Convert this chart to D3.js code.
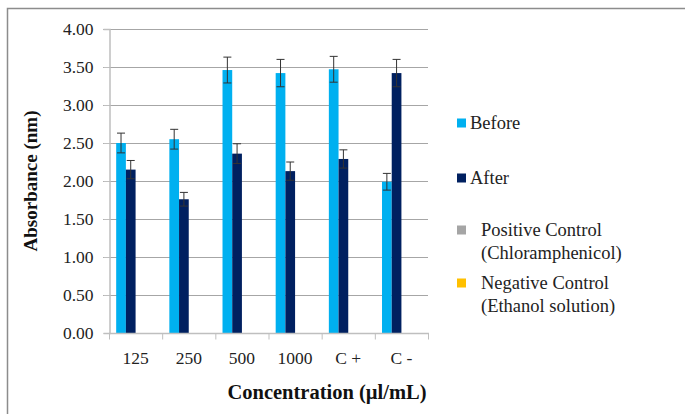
<!DOCTYPE html>
<html>
<head>
<meta charset="utf-8">
<script src="https://cdn.jsdelivr.net/npm/d3@7"></script>
<style>
  body { margin: 0; background: #fff; }
</style>
</head>
<body>
<svg id="chart" width="685" height="414"></svg>
<script>
// Chart data
const categories = ["125", "250", "500", "1000", "C +", "C -"];
const seriesNames = ["Before", "After", "Positive Control", "Negative Control"];
const before = [2.50, 2.55, 3.46, 3.42, 3.47, 1.99];
const beforeErr = [0.13, 0.13, 0.17, 0.18, 0.17, 0.11];
const after = [2.15, 1.76, 2.36, 2.13, 2.29, 3.42];
const afterErr = [0.12, 0.09, 0.13, 0.12, 0.12, 0.18];
const yTicks = [0, 0.5, 1, 1.5, 2, 2.5, 3, 3.5, 4];
const colors = ["#00B0F0", "#002060", "#A5A5A5", "#FFC000"];

const serif = "'Liberation Serif', 'Times New Roman', serif";
const svg = d3.select("#chart");

// outer chart frame (only top and left edges show in the picture)
svg.append("rect")
  .attr("x", 7.5).attr("y", 8.5)
  .attr("width", 700).attr("height", 420)
  .attr("fill", "none").attr("stroke", "#8c8c8c").attr("stroke-width", 1.5);

const plot = { left: 109, right: 428, top: 29, bottom: 333 };

const x = d3.scaleBand()
  .domain(categories)
  .range([plot.left, plot.right])
  .paddingInner(0).paddingOuter(0);

// four series slots per category, last two are empty in the data
const xs = d3.scaleBand()
  .domain(seriesNames)
  .range([0, x.bandwidth()])
  .paddingOuter(0.74)
  .paddingInner(0);

const y = d3.scaleLinear()
  .domain([0, 4])
  .range([plot.bottom, plot.top]);

// gridlines
svg.append("g")
  .selectAll("line")
  .data(yTicks.slice(1))
  .enter().append("line")
  .attr("x1", plot.left - 6).attr("x2", plot.right)
  .attr("y1", d => Math.round(y(d)) + 0.5).attr("y2", d => Math.round(y(d)) + 0.5)
  .attr("stroke", "#a6a6a6").attr("stroke-width", 1);

// y axis
const yAxis = svg.append("g")
  .attr("transform", `translate(${plot.left + 0.5},0)`)
  .call(d3.axisLeft(y).tickValues(yTicks).tickFormat(d3.format(".2f")).tickSize(6).tickPadding(10));
yAxis.select(".domain").attr("stroke", "#bfbfbf").attr("stroke-width", 1.5);
yAxis.selectAll(".tick line").attr("stroke", "#bfbfbf");
yAxis.selectAll("text")
  .style("font-family", serif)
  .style("font-size", "17.5px").attr("fill", "#222");

// bars
const data = categories.map((c, i) => ({ cat: c, vals: [
  { s: "Before", v: before[i], e: beforeErr[i], color: colors[0] },
  { s: "After", v: after[i], e: afterErr[i], color: colors[1] }
]}));

const groups = svg.append("g").selectAll("g")
  .data(data).enter().append("g")
  .attr("transform", d => `translate(${x(d.cat)},0)`);

groups.selectAll("rect")
  .data(d => d.vals).enter().append("rect")
  .attr("x", d => xs(d.s))
  .attr("width", xs.bandwidth())
  .attr("y", d => y(d.v))
  .attr("height", d => y(0) - y(d.v))
  .attr("fill", d => d.color);

// error bars
const eb = groups.selectAll("g.err")
  .data(d => d.vals).enter().append("g").attr("class", "err")
  .attr("stroke", "#333").attr("stroke-width", 1);
eb.append("line")
  .attr("x1", d => xs(d.s) + xs.bandwidth() / 2).attr("x2", d => xs(d.s) + xs.bandwidth() / 2)
  .attr("y1", d => y(d.v + d.e)).attr("y2", d => y(d.v - d.e));
eb.append("line")
  .attr("x1", d => xs(d.s) + xs.bandwidth() / 2 - 4).attr("x2", d => xs(d.s) + xs.bandwidth() / 2 + 4)
  .attr("y1", d => y(d.v + d.e)).attr("y2", d => y(d.v + d.e));
eb.append("line")
  .attr("x1", d => xs(d.s) + xs.bandwidth() / 2 - 4).attr("x2", d => xs(d.s) + xs.bandwidth() / 2 + 4)
  .attr("y1", d => y(d.v - d.e)).attr("y2", d => y(d.v - d.e));

// x axis
const xAxisG = svg.append("g").attr("transform", `translate(0,${plot.bottom + 0.5})`);
xAxisG.append("line")
  .attr("x1", plot.left).attr("x2", plot.right + 1)
  .attr("stroke", "#bfbfbf").attr("stroke-width", 1.5);
xAxisG.selectAll("line.tk")
  .data(categories.concat(["end"])).enter().append("line").attr("class", "tk")
  .attr("x1", (d, i) => i < categories.length ? x(d) + 0.5 : plot.right + 0.5)
  .attr("x2", (d, i) => i < categories.length ? x(d) + 0.5 : plot.right + 0.5)
  .attr("y1", 0).attr("y2", 6)
  .attr("stroke", "#bfbfbf");
xAxisG.selectAll("text")
  .data(categories).enter().append("text")
  .attr("x", d => x(d) + x.bandwidth() / 2)
  .attr("y", 30)
  .attr("text-anchor", "middle")
  .style("font-family", serif).style("font-size", "17.5px").attr("fill", "#222")
  .text(d => d);

// axis titles
svg.append("text")
  .attr("x", 327).attr("y", 399)
  .attr("text-anchor", "middle")
  .style("font-family", serif).style("font-size", "20.5px")
  .attr("font-weight", "bold").attr("fill", "#111")
  .text("Concentration (µl/mL)");

svg.append("text")
  .attr("transform", "translate(37,181) rotate(-90)")
  .attr("text-anchor", "middle")
  .style("font-family", serif).style("font-size", "19px")
  .attr("font-weight", "bold").attr("fill", "#111")
  .text("Absorbance (nm)");

// legend
const legendItems = [
  { lines: ["Before"], color: colors[0], y: 123, tx: 470 },
  { lines: ["After"], color: colors[1], y: 178, tx: 470 },
  { lines: ["Positive Control", "(Chloramphenicol)"], color: colors[2], y: 230, tx: 481 },
  { lines: ["Negative Control", "(Ethanol solution)"], color: colors[3], y: 283, tx: 481 }
];
const lg = svg.append("g").selectAll("g").data(legendItems).enter().append("g");
lg.append("rect")
  .attr("x", 457).attr("y", d => d.y - 4.5)
  .attr("width", 9).attr("height", 9)
  .attr("fill", d => d.color);
lg.each(function(d) {
  const t = d3.select(this).append("text")
    .style("font-family", serif).style("font-size", "18.5px").attr("fill", "#222");
  d.lines.forEach((l, i) => {
    t.append("tspan").attr("x", d.tx).attr("y", d.y + 6 + i * 23).text(l);
  });
});
</script>
</body>
</html>
